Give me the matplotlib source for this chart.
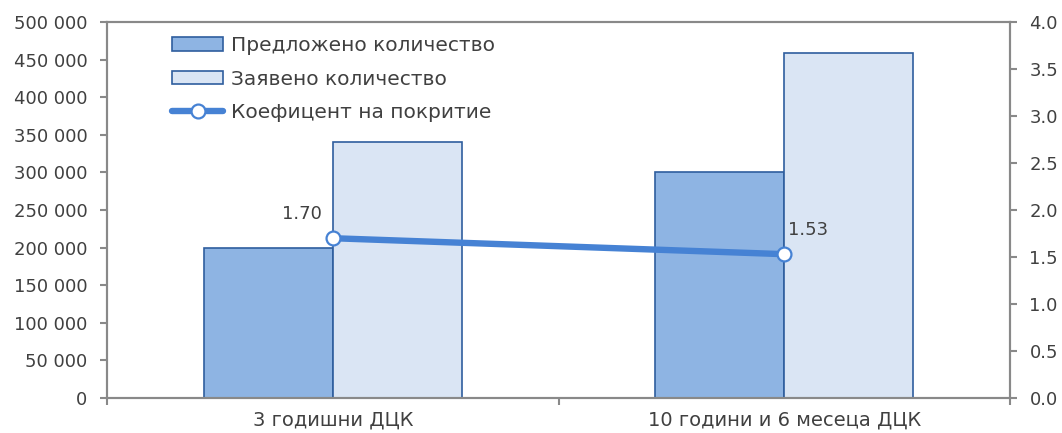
import matplotlib
matplotlib.use("Agg")
import matplotlib.pyplot as plt
from matplotlib.ticker import FuncFormatter, FixedLocator
import numpy as np

categories = ["3 годишни ДЦК", "10 години и 6 месеца ДЦК"]
offered = [200000, 300000]
requested = [340000, 459000]
coverage = [1.70, 1.53]
series_names = ["Предложено количество", "Заявено количество", "Коефицент на покритие"]

plt.rcParams["font.family"] = ["DejaVu Sans"]
text_color = "#404040"
spine_color = "#898989"
dark_fill = "#8EB4E3"
light_fill = "#DAE5F4"
bar_edge = "#2F5E9E"
line_color = "#4682D4"

fig = plt.figure(figsize=(10.62, 4.33), dpi=100)
ax = fig.add_axes([0.1008, 0.0808, 0.8502, 0.8684])
ax2 = ax.twinx()

x = np.arange(len(categories))
w = 0.286
b1 = ax.bar(x - w / 2, offered, w, color=dark_fill, edgecolor=bar_edge, linewidth=1.2,
            label=series_names[0], zorder=2)
b2 = ax.bar(x + w / 2, requested, w, color=light_fill, edgecolor=bar_edge, linewidth=1.2,
            label=series_names[1], zorder=2)

ln, = ax2.plot(x, coverage, color=line_color, linewidth=4.6, marker="o", markersize=10,
               markerfacecolor="white", markeredgecolor=line_color, markeredgewidth=1.6,
               label=series_names[2], solid_capstyle="round", zorder=3)

ax.set_xlim(-0.5, len(categories) - 0.5)
ax.set_ylim(0, 500000)
ax2.set_ylim(0, 4.0)
ax.set_yticks(np.arange(0, 500001, 50000))
ax2.set_yticks(np.arange(0, 4.01, 0.5))
ax.yaxis.set_major_formatter(FuncFormatter(lambda v, p: f"{int(v):,}".replace(",", " ")))
ax2.yaxis.set_major_formatter(FuncFormatter(lambda v, p: f"{v:.1f}"))

# category boundaries carry the tick marks, labels sit at the centres
ax.xaxis.set_major_locator(FixedLocator(np.arange(-0.5, len(categories), 1.0)))
ax.set_xticklabels([])
ax.xaxis.set_minor_locator(FixedLocator(x))
ax.set_xticklabels(categories, minor=True)
ax.tick_params(axis="x", which="minor", length=0, pad=9, labelsize=14)
ax.tick_params(axis="x", which="major", length=5, width=1.5, color=spine_color)

for a in (ax, ax2):
    for s in a.spines.values():
        s.set_color(spine_color)
        s.set_linewidth(1.5)
    a.tick_params(axis="y", length=5, width=1.5, color=spine_color, labelcolor=text_color,
                  labelsize=13, pad=9)
ax.tick_params(axis="x", labelcolor=text_color, which="both")

# coverage labels
ax2.annotate(f"{coverage[0]:.2f}", (x[0], coverage[0]), xytext=(-8, 11),
             textcoords="offset points", ha="right", va="bottom", fontsize=13,
             color=text_color)
ax2.annotate(f"{coverage[1]:.2f}", (x[1], coverage[1]), xytext=(3, 11),
             textcoords="offset points", ha="left", va="bottom", fontsize=13,
             color=text_color)

leg = ax.legend([b1, b2, ln], series_names, loc="upper left",
                bbox_to_anchor=(0.072, 0.962), frameon=False, fontsize=14.5,
                handlelength=2.55, handleheight=0.65, handletextpad=0.4,
                labelspacing=0.72, borderaxespad=0, borderpad=0)
for t in leg.get_texts():
    t.set_color(text_color)

fig.savefig("out.png", dpi=100)
